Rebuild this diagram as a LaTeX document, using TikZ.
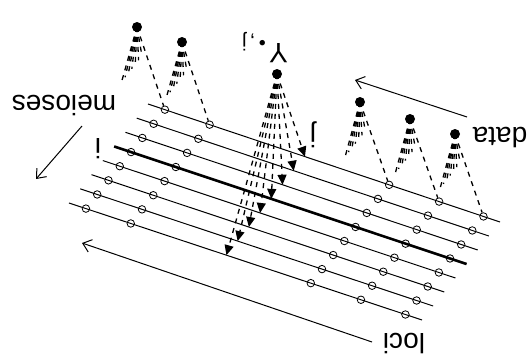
\documentclass[tikz,border=0pt]{standalone}
\usepackage{fontspec}
\setmainfont{Liberation Sans}
\usetikzlibrary{arrows.meta,calc}
\begin{document}
\begin{tikzpicture}[x=1pt,y=-1pt,
  locus/.style={line width=1pt},
  locusthick/.style={line width=2.6pt},
  locmark/.style={circle,draw,line width=0.8pt,inner sep=0pt,minimum size=7.5pt},
  indiv/.style={circle,fill,inner sep=0pt,minimum size=10pt},
  leg/.style={line width=1.3pt,dash pattern=on 5pt off 5pt},
  lab/.style={rotate=180,font=\fontsize{28}{30}\selectfont,inner sep=0pt},
  axisarrow/.style={line width=1pt,-{Straight Barb[length=8pt,width=13pt]}},
  jarrow/.style={leg,-{Triangle[length=10pt,width=9pt]}},
]
\useasboundingbox (0,0) rectangle (531,360);

\foreach \k in {1,...,8}{
  \pgfmathsetmacro\sx{148-11.29*(\k-1)}
  \pgfmathsetmacro\sy{104+14.14*(\k-1)}
  \pgfmathsetmacro\ex{500-11.14*(\k-1)}
  \pgfmathsetmacro\ey{222+14.0*(\k-1)}
  \coordinate (S\k) at (\sx,\sy);
  \coordinate (E\k) at (\ex,\ey);
}
\foreach \k in {1,2,3,5,6,7,8} \draw[locus] (S\k) -- (E\k);
\draw[locusthick] (S4) -- (E4);

\foreach \k in {1,...,8}{
  \node[locmark] (ga\k) at ($(S\k)!0.048!(E\k)$) {};
  \node[locmark] (gb\k) at ($(S\k)!0.175!(E\k)$) {};
  \node[locmark] (gc\k) at ($(S\k)!0.685!(E\k)$) {};
  \node[locmark] (gd\k) at ($(S\k)!0.827!(E\k)$) {};
  \node[locmark] (ge\k) at ($(S\k)!0.953!(E\k)$) {};
  \coordinate (aj\k) at ($(S\k)!0.446!(E\k)$);
}

\node[indiv] (dA) at (137,27) {};
\node[indiv] (dB) at (182,42) {};
\node[indiv] (dY) at (277,74) {};
\node[indiv] (dC) at (360,102) {};
\node[indiv] (dD) at (410,119) {};
\node[indiv] (dE) at (455,134) {};

\foreach \d/\g in {dA/ga,dB/gb,dC/gc,dD/gd,dE/ge}{
  \draw[leg] (\d.center) -- (\g1);
  \foreach \k in {2,...,8} \draw[leg] (\d.center) -- ($(\d.center)!0.3!(\g\k)$);
}
\foreach \k in {1,...,8} \draw[jarrow] (dY.center) -- (aj\k);

\coordinate (dataFrom) at (467,117);
\coordinate (dataTo) at (355,80);
\coordinate (lociFrom) at (372,342);
\coordinate (lociTo) at (82,243);
\coordinate (meiFrom) at (82,126);
\coordinate (meiTo) at (36,179);
\draw[axisarrow] (dataFrom) -- (dataTo);
\draw[axisarrow] (lociFrom) -- (lociTo);
\draw[axisarrow] (meiFrom) -- (meiTo);

\node[lab,anchor=base] (tmeioses) at (64,95) {meioses};
\node[lab,anchor=base] (tdata) at (500,127) {data};
\node[lab,anchor=base] (tloci) at (404,333) {loci};
\node[lab,anchor=base] (ti) at (98,138) {i};
\node[lab,anchor=base] (tj) at (313,127) {j};
\node[lab,anchor=base west] (tY) at (288,43) {Y\raisebox{-7pt}{\fontsize{20}{20}\selectfont \,•\,,\,j}};
\end{tikzpicture}
\end{document}
